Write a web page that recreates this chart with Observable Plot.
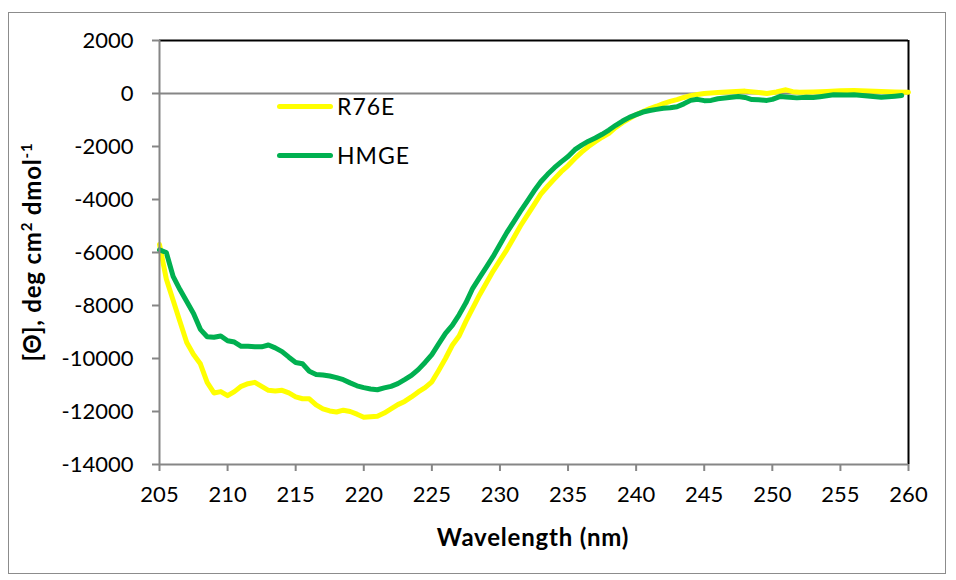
<!DOCTYPE html>
<html>
<head>
<meta charset="utf-8">
<script src="https://cdn.jsdelivr.net/npm/d3@7"></script>
<script src="https://cdn.jsdelivr.net/npm/@observablehq/plot@0.6"></script>
<style>
  html, body { margin: 0; padding: 0; background: #fff; }
  #wrap { position: relative; width: 956px; height: 580px; font-family: Lato, "Open Sans", sans-serif; }
  #frame { position: absolute; left: 8px; top: 12px; width: 938px; height: 562px; border: 1.5px solid #8c8c8c; box-sizing: border-box; pointer-events: none; }
  .leg { position: absolute; left: 277px; width: 56px; height: 5px; border-radius: 3px; }
  .legt { position: absolute; left: 337px; font-size: 23px; line-height: 23px; letter-spacing: 1px; color: #000; }
</style>
</head>
<body>
<div id="wrap">
  <div id="frame"></div>
</div>
<script>
// Series names and colours
const seriesNames = ["R76E", "HMGE"];
const seriesColors = ["#FFFF00", "#00B050"];

// R76E (yellow)
const r76eNm = [205,205.5,206,206.5,207,207.5,208,208.5,209,209.5,210,210.5,211,211.5,212,212.5,213,213.5,214,214.5,215,215.5,216,216.5,217,217.5,218,218.5,219,219.5,220,220.5,221,221.5,222,222.5,223,223.5,224,224.5,225,225.5,226,226.5,227,227.5,228,228.5,229,229.5,230,230.5,231,231.5,232,232.5,233,233.5,234,234.5,235,235.5,236,236.5,237,237.5,238,238.5,239,239.5,240,240.5,241,241.5,242,242.5,243,243.5,244,244.5,245,246,247,248,249,249.6,250.3,251,251.5,252,253,254,255,256,257,258,259,260];
const r76eVal = [-5700,-7000,-7800,-8600,-9400,-9850,-10200,-10900,-11300,-11250,-11400,-11250,-11050,-10950,-10900,-11050,-11200,-11230,-11200,-11300,-11450,-11520,-11520,-11750,-11900,-11980,-12020,-11950,-12000,-12100,-12220,-12200,-12180,-12060,-11900,-11740,-11620,-11450,-11260,-11100,-10880,-10450,-10000,-9500,-9150,-8600,-8100,-7600,-7150,-6700,-6300,-5900,-5450,-5000,-4600,-4200,-3800,-3500,-3220,-2950,-2720,-2450,-2210,-2000,-1820,-1650,-1500,-1280,-1100,-950,-800,-680,-570,-480,-380,-300,-230,-150,-80,-40,0,40,70,90,40,0,60,140,70,50,60,80,100,113,90,75,60,50];

// HMGE (green)
const hmgeNm = [205,205.5,206,206.5,207,207.5,208,208.5,209,209.5,210,210.5,211,211.5,212,212.5,213,213.5,214,214.5,215,215.5,216,216.5,217,217.5,218,218.5,219,219.5,220,220.5,221,221.5,222,222.5,223,223.5,224,224.5,225,225.5,226,226.5,227,227.5,228,228.5,229,229.5,230,230.5,231,231.5,232,232.5,233,233.5,234,234.5,235,235.5,236,236.5,237,237.5,238,238.5,239,239.5,240,240.5,241,241.5,242,242.5,243,243.5,244,244.5,245,245.5,246,246.5,247,247.5,248,248.5,249,249.6,250,250.6,251,251.8,252.5,253,253.5,254.5,255.5,256,257,258,259,259.5];
const hmgeVal = [-5900,-6000,-6900,-7400,-7850,-8300,-8900,-9180,-9200,-9150,-9330,-9380,-9540,-9540,-9560,-9560,-9490,-9600,-9740,-9950,-10150,-10200,-10480,-10600,-10620,-10660,-10720,-10800,-10920,-11030,-11100,-11150,-11180,-11110,-11050,-10950,-10800,-10640,-10420,-10150,-9850,-9450,-9050,-8750,-8350,-7900,-7350,-6950,-6550,-6150,-5700,-5250,-4850,-4450,-4070,-3680,-3330,-3050,-2800,-2580,-2380,-2120,-1950,-1800,-1680,-1540,-1380,-1200,-1040,-900,-800,-700,-640,-600,-560,-540,-500,-390,-260,-220,-270,-260,-200,-170,-140,-110,-150,-230,-240,-260,-220,-110,-130,-165,-140,-150,-120,-50,-60,-50,-90,-140,-100,-75];

// Axis ticks
const xTicks = [205,210,215,220,225,230,235,240,245,250,255,260];
const yTicks = [2000,0,-2000,-4000,-6000,-8000,-10000,-12000,-14000];

const r76e = r76eNm.map((x, i) => ({x, y: r76eVal[i]}));
const hmge = hmgeNm.map((x, i) => ({x, y: hmgeVal[i]}));

const gray = "#868686";

const chart = Plot.plot({
  width: 956,
  height: 580,
  marginLeft: 159,
  marginRight: 48,
  marginTop: 40,
  marginBottom: 116,
  style: { fontFamily: "Lato, 'Open Sans', sans-serif", fontSize: "22px", background: "transparent", color: "#000" },
  x: { domain: [205, 260] },
  y: { domain: [-14000, 2000] },
  marks: [
    Plot.ruleY([2000], { stroke: "#000", strokeWidth: 2 }),
    Plot.ruleX([260], { stroke: "#000", strokeWidth: 2 }),
    Plot.ruleY([0], { stroke: gray, strokeWidth: 2 }),
    Plot.line(r76e, { x: "x", y: "y", stroke: seriesColors[0], strokeWidth: 5, strokeLinejoin: "round", strokeLinecap: "round" }),
    Plot.line(hmge, { x: "x", y: "y", stroke: seriesColors[1], strokeWidth: 5, strokeLinejoin: "round", strokeLinecap: "round" }),
    Plot.ruleX([205], { stroke: gray, strokeWidth: 2 }),
    Plot.ruleY([-14000], { stroke: gray, strokeWidth: 2 }),
    Plot.axisY({ ticks: yTicks, tickSize: 7, tickPadding: 19, stroke: gray, strokeWidth: 2, fill: "#000", fontSize: 22, label: null, tickFormat: d => String(d) }),
    Plot.axisX({ ticks: xTicks, tickSize: 7, tickPadding: 15, stroke: gray, strokeWidth: 2, fill: "#000", fontSize: 22, label: null, tickFormat: d => String(d) })
  ]
});

const svg = d3.select(chart);
// x-axis title
svg.append("text")
  .attr("x", 533).attr("y", 546)
  .attr("text-anchor", "middle")
  .attr("font-weight", "bold").attr("font-size", 24)
  .attr("letter-spacing", 0.8)
  .attr("fill", "#000")
  .text("Wavelength (nm)");
// y-axis title with superscripts
const yt = svg.append("text")
  .attr("transform", "translate(41,252) rotate(-90)")
  .attr("text-anchor", "middle")
  .attr("font-weight", "bold").attr("font-size", 24)
  .attr("letter-spacing", 0.8)
  .attr("fill", "#000");
yt.append("tspan").text("[\u0398], deg cm");
yt.append("tspan").attr("font-size", 15).attr("dy", -9).text("2");
yt.append("tspan").attr("dy", 9).text(" dmol");
yt.append("tspan").attr("font-size", 15).attr("dy", -9).text("-1");

const wrap = document.getElementById("wrap");
chart.style.position = "absolute";
chart.style.left = "0px";
chart.style.top = "0px";
wrap.insertBefore(chart, wrap.firstChild);

// legend
const legY = [106, 155];
seriesNames.forEach((name, i) => {
  const l = document.createElement("div");
  l.className = "leg";
  l.style.top = (legY[i] - 2.5) + "px";
  l.style.background = seriesColors[i];
  wrap.appendChild(l);
  const t = document.createElement("div");
  t.className = "legt";
  t.style.top = (legY[i] - 11.5) + "px";
  t.textContent = name;
  wrap.appendChild(t);
});
</script>
</body>
</html>
